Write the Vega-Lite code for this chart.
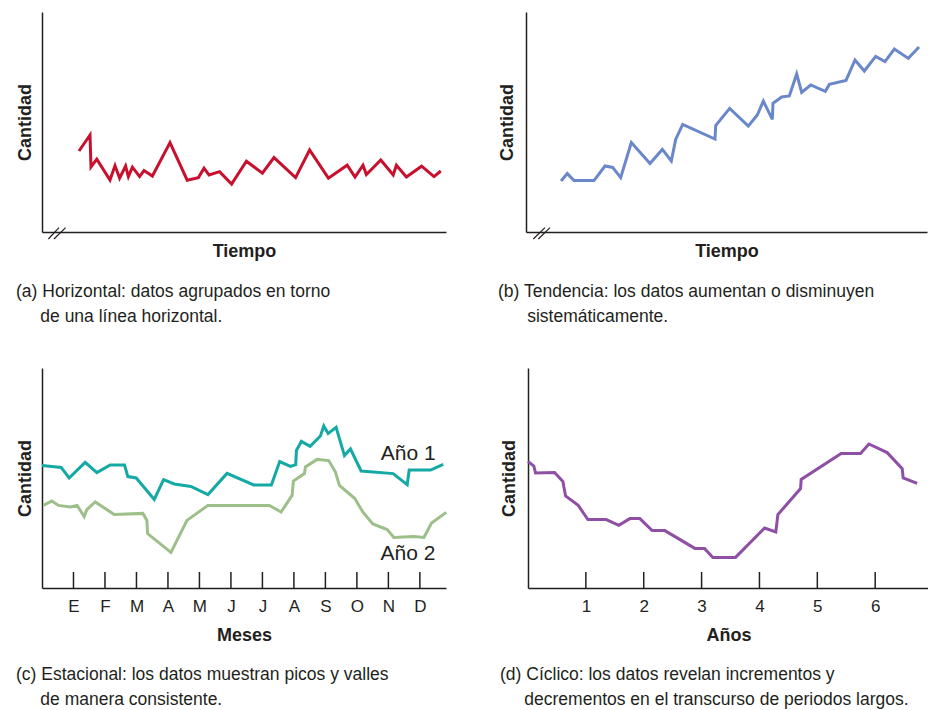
{
  "$schema": "https://vega.github.io/schema/vega-lite/v6.json",
  "background": "white",
  "padding": {"left": 16, "top": 12, "right": 0, "bottom": 0},
  "spacing": 42,
  "config": {
    "view": {"stroke": null},
    "font": "Liberation Sans",
    "axis": {
      "grid": false,
      "domainColor": "#231f20",
      "domainWidth": 1.5,
      "tickColor": "#231f20",
      "tickWidth": 1.5,
      "titleFont": "Liberation Sans",
      "titleFontSize": 18,
      "titleFontWeight": "bold",
      "titleColor": "#231f20",
      "labelFont": "Liberation Sans",
      "labelFontSize": 17,
      "labelColor": "#231f20",
      "labelOverlap": false
    },
    "title": {
      "font": "Liberation Sans",
      "fontSize": 17.5,
      "fontWeight": "normal",
      "color": "#231f20",
      "orient": "bottom",
      "anchor": "start",
      "frame": "bounds",
      "baseline": "top",
      "lineHeight": 25,
      "offset": 22
    }
  },
  "vconcat": [
    {
      "spacing": 51,
      "hconcat": [
        {
          "width": 404,
          "height": 220,
          "title": {"text": ["(a) Horizontal: datos agrupados en torno", "\u200b\u00a0\u00a0\u00a0\u00a0\u00a0de una línea horizontal."], "offset": 23},
          "layer": [
            {
              "data": {"values": [
                {"t": 9.25, "c": 40.5}, {"t": 12, "c": 48.5}, {"t": 12.25, "c": 32.5}, {"t": 13.7, "c": 36.4},
                {"t": 17, "c": 26}, {"t": 18.25, "c": 33.2}, {"t": 19.4, "c": 26.9}, {"t": 20.9, "c": 33},
                {"t": 21.6, "c": 27.7}, {"t": 22.6, "c": 32.4}, {"t": 24.4, "c": 27.7}, {"t": 25.5, "c": 30.7},
                {"t": 27.6, "c": 28}, {"t": 32, "c": 44.7}, {"t": 36.3, "c": 25.9}, {"t": 39.1, "c": 27.2},
                {"t": 40.5, "c": 31.9}, {"t": 41.75, "c": 28.5}, {"t": 44.4, "c": 30.2}, {"t": 47.4, "c": 24},
                {"t": 51.1, "c": 35.4}, {"t": 55.1, "c": 29.4}, {"t": 58, "c": 37.2}, {"t": 63.4, "c": 27.2},
                {"t": 66.9, "c": 41}, {"t": 71.6, "c": 26.9}, {"t": 76.3, "c": 33.4}, {"t": 78.25, "c": 27.5},
                {"t": 80.25, "c": 33.4}, {"t": 81.1, "c": 28.7}, {"t": 84.7, "c": 36}, {"t": 87.8, "c": 28.5},
                {"t": 88.6, "c": 33.4}, {"t": 91.1, "c": 27.5}, {"t": 94.9, "c": 32.9}, {"t": 98, "c": 27.7},
                {"t": 99.7, "c": 30.5}
              ]},
              "mark": {"type": "line", "color": "#c8102e", "strokeWidth": 3, "strokeJoin": "miter"},
              "encoding": {
                "x": {"field": "t", "type": "quantitative", "scale": {"domain": [0, 101], "nice": false},
                      "axis": {"title": "Tiempo", "labels": false, "ticks": false, "titlePadding": 10}},
                "y": {"field": "c", "type": "quantitative", "scale": {"domain": [0, 110], "nice": false},
                      "axis": {"title": "Cantidad", "labels": false, "ticks": false, "titlePadding": 8}}
              }
            },
            {
              "data": {"values": [
                {"x": 1.6, "y": -3.5, "x2": 4.25, "y2": 2.2},
                {"x": 3.0, "y": -3.5, "x2": 5.9, "y2": 2.2}
              ]},
              "mark": {"type": "rule", "color": "#231f20", "strokeWidth": 1.2},
              "encoding": {
                "x": {"field": "x", "type": "quantitative"},
                "x2": {"field": "x2"},
                "y": {"field": "y", "type": "quantitative"},
                "y2": {"field": "y2"}
              }
            }
          ]
        },
        {
          "width": 401,
          "height": 220,
          "title": {"text": ["(b) Tendencia: los datos aumentan o disminuyen", "\u200b\u00a0\u00a0\u00a0\u00a0\u00a0\u00a0sistemáticamente."], "offset": 23},
          "layer": [
            {
              "data": {"values": [
                {"t": 8.75, "c": 25.5}, {"t": 10.33, "c": 29.2}, {"t": 12, "c": 25.7}, {"t": 17, "c": 25.7},
                {"t": 19.75, "c": 33}, {"t": 21.67, "c": 32.3}, {"t": 23.67, "c": 27.2}, {"t": 26.33, "c": 44.7},
                {"t": 31, "c": 34.3}, {"t": 34.08, "c": 41.3}, {"t": 36.33, "c": 35.5}, {"t": 37.42, "c": 46.3},
                {"t": 39.17, "c": 53.8}, {"t": 47.25, "c": 46.5}, {"t": 47.42, "c": 53.2}, {"t": 50.92, "c": 61.8},
                {"t": 55.58, "c": 53}, {"t": 57.83, "c": 58.5}, {"t": 59.33, "c": 65.5}, {"t": 61.58, "c": 56.3},
                {"t": 61.75, "c": 64.3}, {"t": 63.92, "c": 67.5}, {"t": 65.83, "c": 68}, {"t": 67.67, "c": 79},
                {"t": 68.92, "c": 69.8}, {"t": 71.17, "c": 73.5}, {"t": 74.83, "c": 70.3}, {"t": 75.83, "c": 73.8},
                {"t": 80, "c": 75.8}, {"t": 82.25, "c": 86}, {"t": 84.58, "c": 80.5}, {"t": 87.42, "c": 87.8},
                {"t": 89.75, "c": 85.2}, {"t": 92.08, "c": 91.5}, {"t": 95.58, "c": 86.8}, {"t": 98.25, "c": 92.5}
              ]},
              "mark": {"type": "line", "color": "#6a87c9", "strokeWidth": 3, "strokeJoin": "miter"},
              "encoding": {
                "x": {"field": "t", "type": "quantitative", "scale": {"domain": [0, 100.25], "nice": false},
                      "axis": {"title": "Tiempo", "labels": false, "ticks": false, "titlePadding": 10}},
                "y": {"field": "c", "type": "quantitative", "scale": {"domain": [0, 110], "nice": false},
                      "axis": {"title": "Cantidad", "labels": false, "ticks": false, "titlePadding": 10}}
              }
            },
            {
              "data": {"values": [
                {"x": 1.83, "y": -3.5, "x2": 4.75, "y2": 2.2},
                {"x": 3.08, "y": -3.5, "x2": 6.0, "y2": 2.2}
              ]},
              "mark": {"type": "rule", "color": "#231f20", "strokeWidth": 1.2},
              "encoding": {
                "x": {"field": "x", "type": "quantitative"},
                "x2": {"field": "x2"},
                "y": {"field": "y", "type": "quantitative"},
                "y2": {"field": "y2"}
              }
            }
          ]
        }
      ]
    },
    {
      "spacing": 47,
      "hconcat": [
        {
          "width": 404,
          "height": 220,
          "title": {"text": ["(c) Estacional: los datos muestran picos y valles", "\u200b\u00a0\u00a0\u00a0\u00a0\u00a0de manera consistente."], "offset": 22},
          "layer": [
            {
              "data": {"values": [
                {"serie": "Año 1", "mes": 0.0, "c": 61.3}, {"serie": "Año 1", "mes": 0.608, "c": 60.3},
                {"serie": "Año 1", "mes": 0.862, "c": 55}, {"serie": "Año 1", "mes": 1.371, "c": 62.8},
                {"serie": "Año 1", "mes": 1.742, "c": 57.7}, {"serie": "Año 1", "mes": 2.166, "c": 61.5},
                {"serie": "Año 1", "mes": 2.621, "c": 61.5}, {"serie": "Año 1", "mes": 2.727, "c": 55.7},
                {"serie": "Año 1", "mes": 2.992, "c": 55}, {"serie": "Año 1", "mes": 3.565, "c": 44.3},
                {"serie": "Año 1", "mes": 3.861, "c": 54.2}, {"serie": "Año 1", "mes": 4.2, "c": 52},
                {"serie": "Año 1", "mes": 4.73, "c": 50.8}, {"serie": "Año 1", "mes": 5.271, "c": 46.7},
                {"serie": "Año 1", "mes": 5.875, "c": 57.3}, {"serie": "Año 1", "mes": 6.723, "c": 51.5},
                {"serie": "Año 1", "mes": 7.284, "c": 51.5}, {"serie": "Año 1", "mes": 7.549, "c": 63.2},
                {"serie": "Año 1", "mes": 7.888, "c": 60.8}, {"serie": "Año 1", "mes": 8.058, "c": 61.7},
                {"serie": "Año 1", "mes": 8.079, "c": 68.8}, {"serie": "Año 1", "mes": 8.238, "c": 73.3},
                {"serie": "Año 1", "mes": 8.514, "c": 70.8}, {"serie": "Año 1", "mes": 8.842, "c": 76},
                {"serie": "Año 1", "mes": 8.948, "c": 81}, {"serie": "Año 1", "mes": 9.086, "c": 77.2},
                {"serie": "Año 1", "mes": 9.34, "c": 80.3}, {"serie": "Año 1", "mes": 9.605, "c": 66.2},
                {"serie": "Año 1", "mes": 9.796, "c": 69.5}, {"serie": "Año 1", "mes": 10.135, "c": 58.5},
                {"serie": "Año 1", "mes": 11.153, "c": 57.2}, {"serie": "Año 1", "mes": 11.598, "c": 51.7},
                {"serie": "Año 1", "mes": 11.661, "c": 59}, {"serie": "Año 1", "mes": 12.34, "c": 59},
                {"serie": "Año 1", "mes": 12.742, "c": 61.8},
                {"serie": "Año 2", "mes": 0.046, "c": 41.3}, {"serie": "Año 2", "mes": 0.311, "c": 43.5},
                {"serie": "Año 2", "mes": 0.523, "c": 41.3}, {"serie": "Año 2", "mes": 0.894, "c": 40.5},
                {"serie": "Año 2", "mes": 1.117, "c": 41.3}, {"serie": "Año 2", "mes": 1.339, "c": 35.7},
                {"serie": "Año 2", "mes": 1.424, "c": 39.2}, {"serie": "Año 2", "mes": 1.689, "c": 43},
                {"serie": "Año 2", "mes": 2.293, "c": 36.8}, {"serie": "Año 2", "mes": 3.204, "c": 37.3},
                {"serie": "Año 2", "mes": 3.332, "c": 33.8}, {"serie": "Año 2", "mes": 3.353, "c": 27.2},
                {"serie": "Año 2", "mes": 4.095, "c": 17.8}, {"serie": "Año 2", "mes": 4.603, "c": 33.8},
                {"serie": "Año 2", "mes": 5.271, "c": 41.3}, {"serie": "Año 2", "mes": 7.221, "c": 41.3},
                {"serie": "Año 2", "mes": 7.592, "c": 38}, {"serie": "Año 2", "mes": 7.942, "c": 46.3},
                {"serie": "Año 2", "mes": 7.984, "c": 53.5}, {"serie": "Año 2", "mes": 8.334, "c": 57.2},
                {"serie": "Año 2", "mes": 8.365, "c": 60.5}, {"serie": "Año 2", "mes": 8.736, "c": 64.3},
                {"serie": "Año 2", "mes": 9.107, "c": 63.7}, {"serie": "Año 2", "mes": 9.319, "c": 58},
                {"serie": "Año 2", "mes": 9.446, "c": 51.3}, {"serie": "Año 2", "mes": 9.934, "c": 44.7},
                {"serie": "Año 2", "mes": 10.188, "c": 38}, {"serie": "Año 2", "mes": 10.506, "c": 32},
                {"serie": "Año 2", "mes": 10.962, "c": 29.2}, {"serie": "Año 2", "mes": 11.174, "c": 25.3},
                {"serie": "Año 2", "mes": 11.81, "c": 25.7}, {"serie": "Año 2", "mes": 12.128, "c": 25.3},
                {"serie": "Año 2", "mes": 12.371, "c": 32.5}, {"serie": "Año 2", "mes": 12.838, "c": 37.8}
              ]},
              "mark": {"type": "line", "strokeWidth": 3, "strokeJoin": "miter"},
              "encoding": {
                "x": {"field": "mes", "type": "quantitative", "scale": {"domain": [0, 12.83], "nice": false},
                      "axis": {"title": "Meses", "values": [1, 2, 3, 4, 5, 6, 7, 8, 9, 10, 11, 12], "tickCount": 12,
                               "labelExpr": "['','E','F','M','A','M','J','J','A','S','O','N','D'][datum.value]",
                               "ticks": false, "labelPadding": 10, "titlePadding": 12, "labelFlush": false, "labelOverlap": false}},
                "y": {"field": "c", "type": "quantitative", "scale": {"domain": [0, 110], "nice": false},
                      "axis": {"title": "Cantidad", "labels": false, "ticks": false, "titlePadding": 8}},
                "color": {"field": "serie", "type": "nominal",
                          "scale": {"domain": ["Año 1", "Año 2"], "range": ["#14a9a4", "#9dbf8a"]}, "legend": null}
              }
            },
            {
              "data": {"values": [
                {"mes": 1, "c0": 0, "c1": 8}, {"mes": 2, "c0": 0, "c1": 8}, {"mes": 3, "c0": 0, "c1": 8},
                {"mes": 4, "c0": 0, "c1": 8}, {"mes": 5, "c0": 0, "c1": 8}, {"mes": 6, "c0": 0, "c1": 8},
                {"mes": 7, "c0": 0, "c1": 8}, {"mes": 8, "c0": 0, "c1": 8}, {"mes": 9, "c0": 0, "c1": 8},
                {"mes": 10, "c0": 0, "c1": 8}, {"mes": 11, "c0": 0, "c1": 8}, {"mes": 12, "c0": 0, "c1": 8}
              ]},
              "mark": {"type": "rule", "color": "#231f20", "strokeWidth": 1.5},
              "encoding": {
                "x": {"field": "mes", "type": "quantitative"},
                "y": {"field": "c0", "type": "quantitative"},
                "y2": {"field": "c1"}
              }
            },
            {
              "data": {"values": [
                {"label": "Año 1", "mes": 10.76, "c": 63.8},
                {"label": "Año 2", "mes": 10.75, "c": 13.8}
              ]},
              "mark": {"type": "text", "align": "left", "baseline": "alphabetic", "font": "Liberation Sans", "fontSize": 21, "color": "#231f20"},
              "encoding": {
                "x": {"field": "mes", "type": "quantitative"},
                "y": {"field": "c", "type": "quantitative"},
                "text": {"field": "label"}
              }
            }
          ]
        },
        {
          "width": 401,
          "height": 220,
          "title": {"text": ["(d) Cíclico: los datos revelan incrementos y", "\u200b\u00a0\u00a0\u00a0\u00a0\u00a0decrementos en el transcurso de periodos largos."], "offset": 22},
          "layer": [
            {
              "data": {"values": [
                {"anio": 0.0, "c": 63.3}, {"anio": 0.101, "c": 61}, {"anio": 0.13, "c": 57.5}, {"anio": 0.459, "c": 57.8},
                {"anio": 0.603, "c": 53.3}, {"anio": 0.649, "c": 46}, {"anio": 0.868, "c": 41.3}, {"anio": 1.035, "c": 34.2},
                {"anio": 1.351, "c": 34.2}, {"anio": 1.57, "c": 31.3}, {"anio": 1.76, "c": 34.7}, {"anio": 1.933, "c": 34.7},
                {"anio": 2.146, "c": 28.7}, {"anio": 2.365, "c": 28.7}, {"anio": 2.884, "c": 19.8}, {"anio": 3.051, "c": 19.8},
                {"anio": 3.195, "c": 15.3}, {"anio": 3.586, "c": 15.3}, {"anio": 4.088, "c": 30}, {"anio": 4.283, "c": 28},
                {"anio": 4.318, "c": 36.7}, {"anio": 4.71, "c": 49.7}, {"anio": 4.721, "c": 54.3}, {"anio": 5.412, "c": 67.3},
                {"anio": 5.747, "c": 67.3}, {"anio": 5.891, "c": 72}, {"anio": 6.207, "c": 67.7}, {"anio": 6.467, "c": 59.7},
                {"anio": 6.484, "c": 55}, {"anio": 6.726, "c": 52.3}
              ]},
              "mark": {"type": "line", "color": "#8e4fa5", "strokeWidth": 3, "strokeJoin": "miter"},
              "encoding": {
                "x": {"field": "anio", "type": "quantitative", "scale": {"domain": [0, 6.93], "nice": false},
                      "axis": {"title": "Años", "values": [1, 2, 3, 4, 5, 6], "format": "d", "tickCount": 6,
                               "ticks": false, "labelPadding": 10, "titlePadding": 12, "labelFlush": false, "labelOverlap": false}},
                "y": {"field": "c", "type": "quantitative", "scale": {"domain": [0, 110], "nice": false},
                      "axis": {"title": "Cantidad", "labels": false, "ticks": false, "titlePadding": 10}}
              }
            },
            {
              "data": {"values": [
                {"anio": 1, "c0": 0, "c1": 8}, {"anio": 2, "c0": 0, "c1": 8}, {"anio": 3, "c0": 0, "c1": 8},
                {"anio": 4, "c0": 0, "c1": 8}, {"anio": 5, "c0": 0, "c1": 8}, {"anio": 6, "c0": 0, "c1": 8}
              ]},
              "mark": {"type": "rule", "color": "#231f20", "strokeWidth": 1.5},
              "encoding": {
                "x": {"field": "anio", "type": "quantitative"},
                "y": {"field": "c0", "type": "quantitative"},
                "y2": {"field": "c1"}
              }
            }
          ]
        }
      ]
    }
  ]
}
